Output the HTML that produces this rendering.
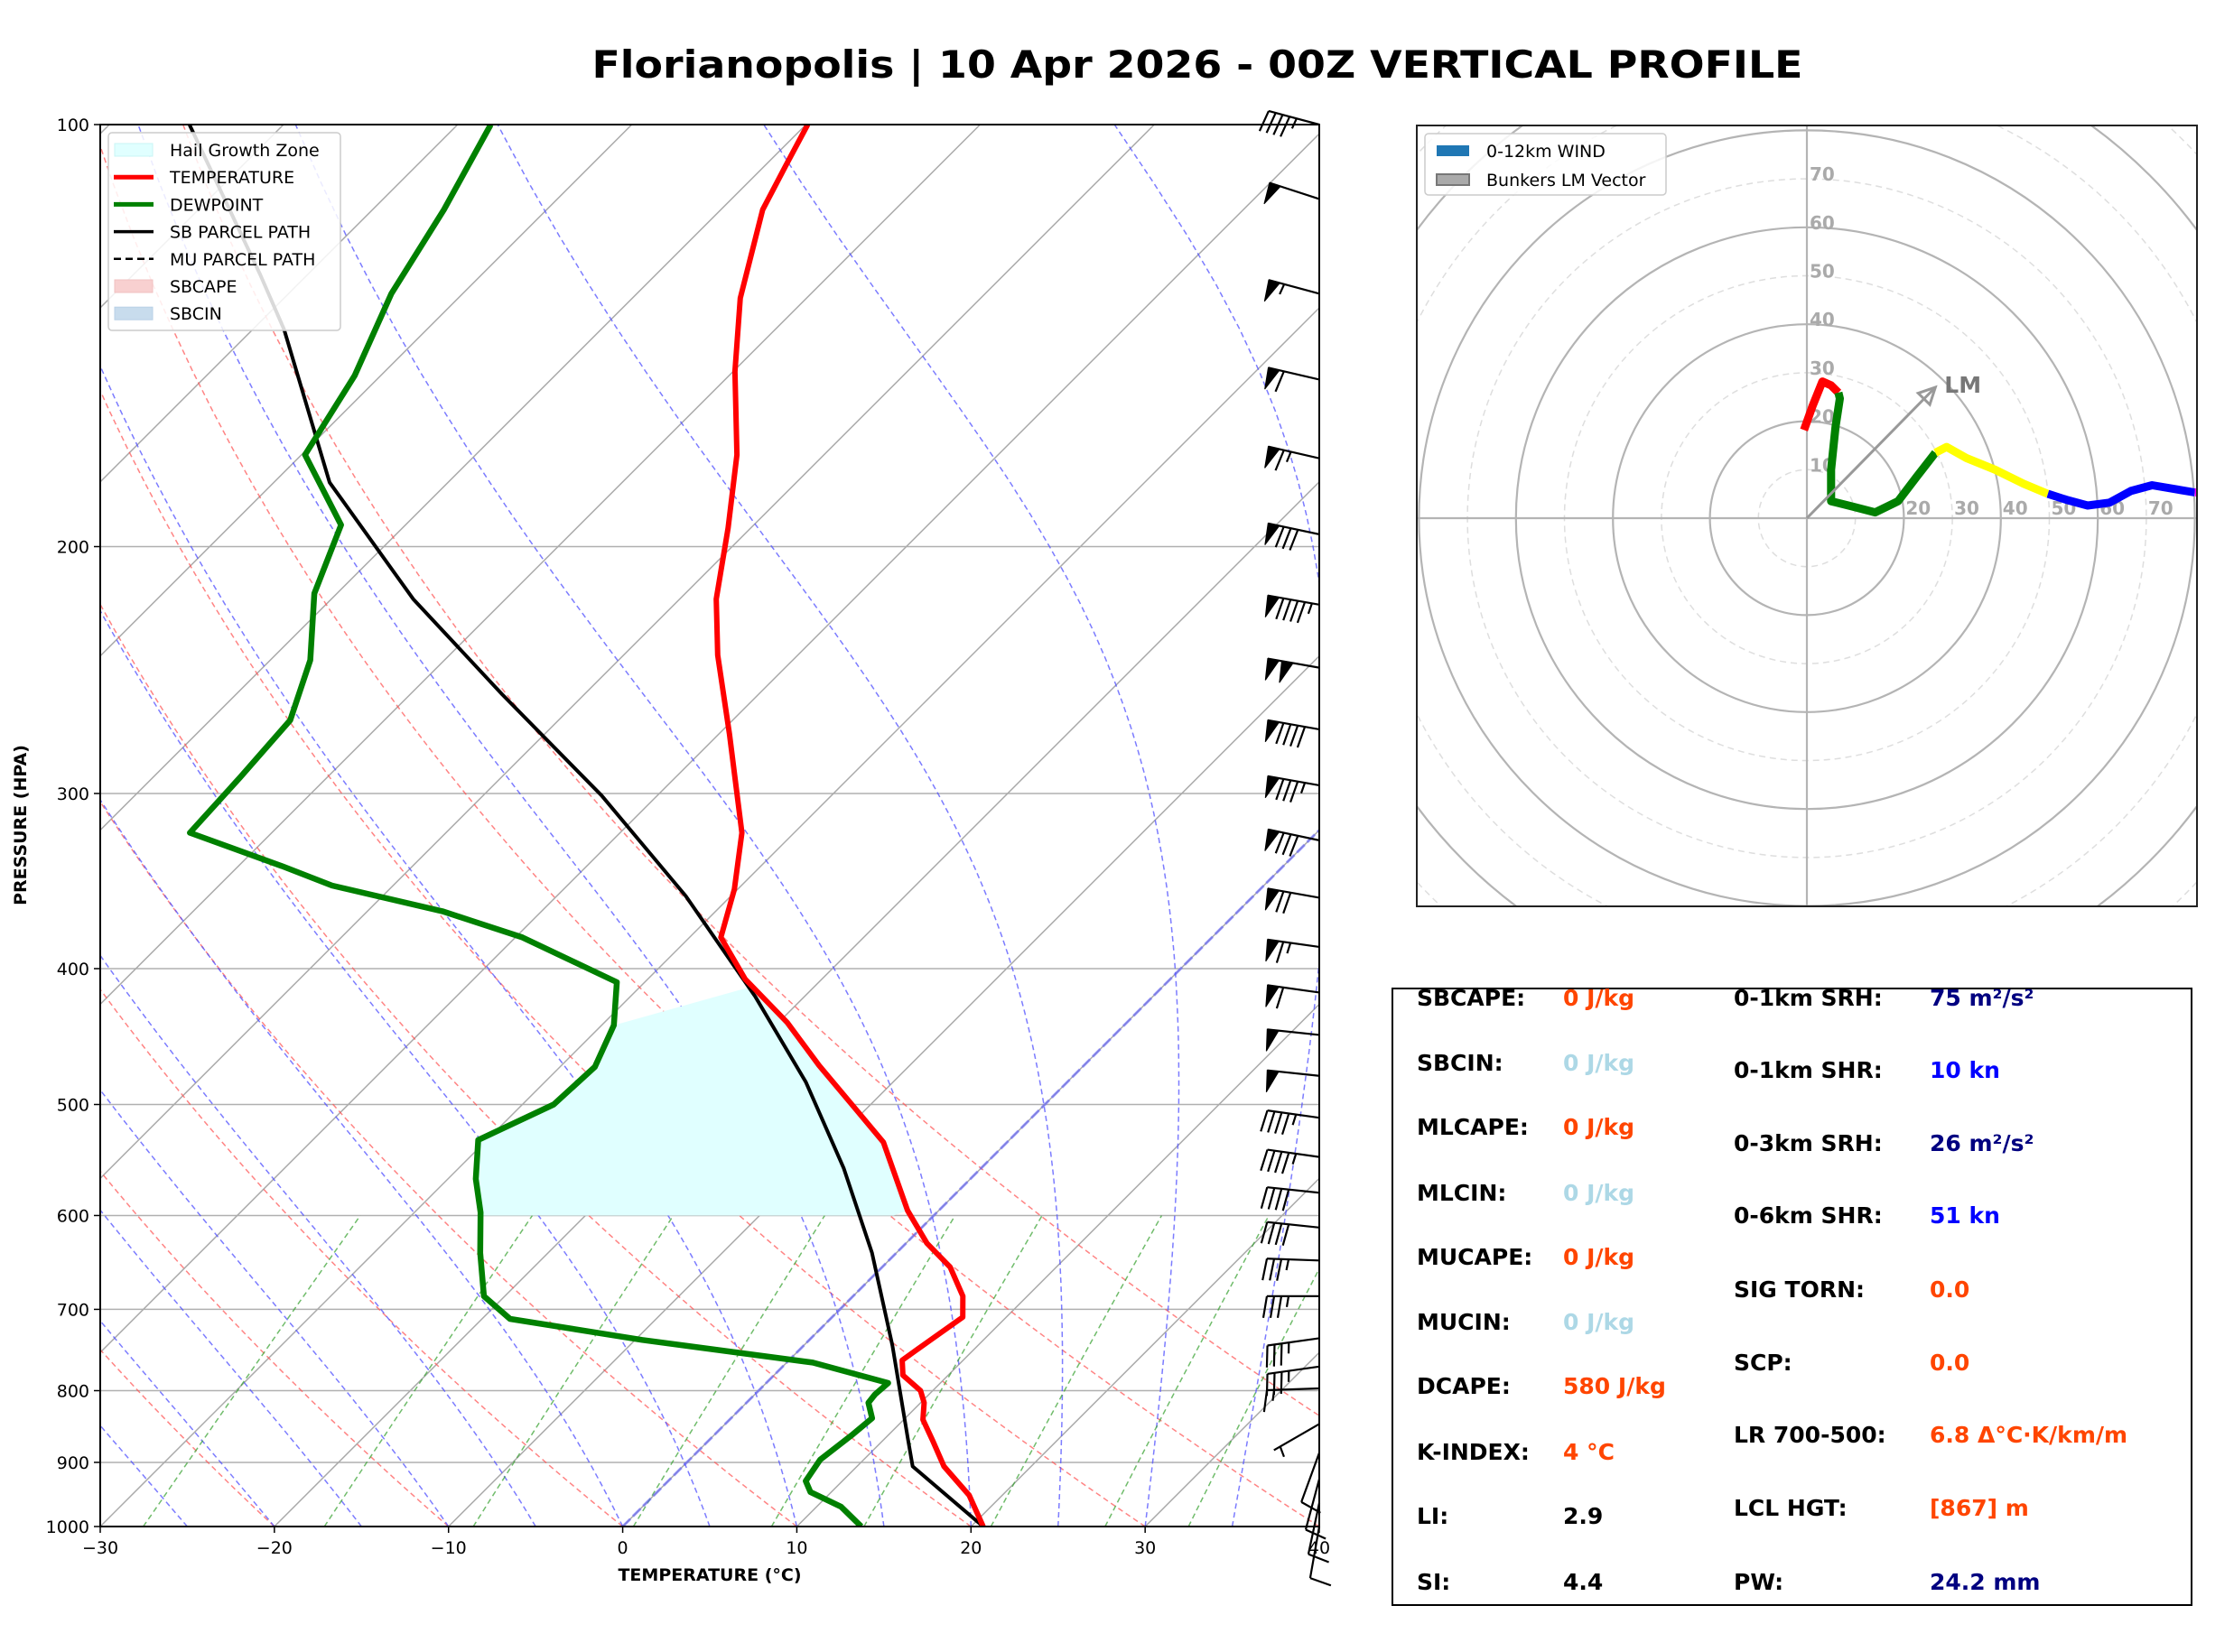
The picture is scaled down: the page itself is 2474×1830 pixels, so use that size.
<!DOCTYPE html>
<html><head><meta charset="utf-8"><style>
html,body{margin:0;padding:0;background:#fff;}
svg{display:block;font-family:"DejaVu Sans","Liberation Sans",sans-serif;}
</style></head><body>
<svg id="fig" width="2474" height="1830" viewBox="0 0 2474 1830" xmlns="http://www.w3.org/2000/svg">
<rect x="0" y="0" width="2474" height="1830" fill="#fff"/>
<text x="1326" y="86" text-anchor="middle" font-size="42" font-weight="bold" textLength="1341" lengthAdjust="spacingAndGlyphs">Florianopolis | 10 Apr 2026 - 00Z VERTICAL PROFILE</text>
<defs>
<clipPath id="skc"><rect x="111" y="138" width="1350" height="1553"/></clipPath>
<clipPath id="hdc"><rect x="1569" y="139" width="864" height="865"/></clipPath>
</defs>
<g id="skew"></g>
<g id="hodo"></g>
<g id="panel">
<rect x="1542" y="1095" width="885" height="683" fill="none" stroke="#000" stroke-width="2"/>
</g>
</svg>
<script>
// ---- data ----
const tempP = [1000,950,906,869,839,816,800,780,761,734,709,685,653,628,595,532,503,469,437,407,380,351,320,272,239,218,194,172,150,133,115,107,100];
const tempT = [20.7,18.1,15.0,12.9,11.1,10.2,9.3,7.4,6.5,7.0,7.5,6.3,3.9,1.2,-1.8,-7.1,-10.7,-15.2,-19.5,-24.4,-28.2,-30.2,-33.0,-39.4,-44.6,-47.9,-51.3,-55.0,-59.9,-63.8,-67.6,-68.8,-69.9];
const dewP = [1000,968,945,928,896,861,837,816,805,790,764,736,711,685,638,597,565,530,500,470,439,409,380,364,349,338,320,292,266,241,216,193,172,151,132,115,100];
const dewT = [13.7,11.4,8.8,7.9,7.5,7.9,8.1,7.0,6.9,7.0,1.5,-9.6,-18.4,-21.2,-23.9,-26.2,-28.4,-30.5,-28.2,-28.0,-29.3,-31.6,-39.6,-45.7,-53.5,-57.5,-64.7,-65.0,-65.4,-67.7,-71.3,-73.7,-79.8,-81.5,-84.1,-85.9,-88.1];
const parcelP = [1000,906,865,743,638,555,482,419,355,301,255,218,180,140,128,100];
const parcelT = [20.7,13.2,11.3,5.1,-1.4,-7.9,-15.0,-22.8,-32.6,-43.2,-54.7,-65.3,-76.8,-88.2,-92.7,-105.4];
const barbP = [100,113,132,152,173,196,220,244,270,296,324,356,386,416,446,477,511,545,578,612,646,685,734,769,797,845,886,925,962,1000];
const barbSpd = [45,50,55,60,65,80,95,100,90,85,80,70,65,60,50,50,45,45,40,40,35,35,35,35,15,5,10,10,10,10];
const barbDir = [285,288,285,283,283,282,280,280,280,280,282,280,278,278,276,276,278,278,276,276,272,270,262,262,268,240,200,195,192,190];
const hodoRedU=[-0.6,1.2,3.2,5.0,6.5], hodoRedV=[18.2,23.2,28.2,27.4,25.9];
const hodoGreenU=[6.5,6.8,5.9,5.0,5.0,9.4,14.1,18.8,22.6,26.5], hodoGreenV=[25.9,24.7,18.8,10,3.5,2.4,1.2,3.5,8.5,13.5];
const hodoYellowU=[26.5,28.8,32.9,38.8,44.7,49.7], hodoYellowV=[13.5,14.7,12.4,10,7.1,5];
const hodoBlueU=[49.7,53.5,57.9,62.4,66.8,71.2,80], hodoBlueV=[5,3.8,2.6,3.2,5.6,6.8,5.3];
const hodoMagU=[80,80.8], hodoMagV=[5.3,5.3];
const lmU = 26.5, lmV = 27;
const xTicks = [-30,-20,-10,0,10,20,30,40];
const pTicks = [100,200,300,400,500,600,700,800,900,1000];

const NS="http://www.w3.org/2000/svg";
function mk(tag, attrs, parent){const e=document.createElementNS(NS,tag);for(const k in attrs)e.setAttribute(k,attrs[k]);parent.appendChild(e);return e;}
// ---- skew-T axes ----
const L=111,R=1461,T0=138,B=1691,PX=19.286;
function Y(p){return B-Math.log10(1000/p)*1553;}
function X(t,p){return L+(t+30)*PX+(B-Y(p));}
const sk=document.getElementById('skew');
const clipG=mk('g',{'clip-path':'url(#skc)'},sk);


function pathOf(ps,ts){return ps.map((p,i)=>(i?'L':'M')+X(ts[i],p).toFixed(1)+','+Y(p).toFixed(1)).join('');}
// horizontal grid
pTicks.forEach(p=>{const l=mk('line',{x1:L,x2:R,y1:Y(p),y2:Y(p),stroke:'#b0b0b0','stroke-width':1.5},clipG);

});
// isotherms
for(let t=-110;t<=40;t+=10){const l=mk('line',{x1:X(t,1000),y1:Y(1000),x2:X(t,100),y2:Y(100),stroke:'#aaa','stroke-width':1.5},clipG);

}
const plist=[];for(let p=1000;p>=100;p-=10)plist.push(p);
// dry adiabats
for(let th=-30;th<=50;th+=10){const ts=plist.map(p=>(th+273.15)*Math.pow(p/1000,0.2857)-273.15);
const e=mk('path',{d:pathOf(plist,ts),fill:'none',stroke:'#ff5050','stroke-opacity':0.7,'stroke-width':1.5,'stroke-dasharray':'6,4'},clipG);

}
// moist adiabats
function es(T){return 6.112*Math.exp(17.67*(T-273.15)/(T-29.65));}
function dTdp(T,p){const e=es(T),rs=0.622*e/(p-e);return (1/p)*(287*T+2.501e6*rs)/(1005+2.501e6*2.501e6*rs*0.622/(287*T*T));}
for(let t0=-30;t0<=35;t0+=5){let T=t0+273.15;const ps=[1000],ts=[t0];for(let p=1000;p>100;p-=2){const k1=dTdp(T,p),k2=dTdp(T-k1,p-1),k3=dTdp(T-k2,p-1),k4=dTdp(T-2*k3,p-2);T-=2*(k1+2*k2+2*k3+k4)/6;if((p-2)%10===0){ps.push(p-2);ts.push(T-273.15);}}
const e=mk('path',{d:pathOf(ps,ts),fill:'none',stroke:'#5050ff','stroke-opacity':0.75,'stroke-width':1.5,'stroke-dasharray':'6,4'},clipG);

}
// mixing ratio
[0.0004,0.001,0.002,0.004,0.007,0.01,0.016,0.024,0.032].forEach(w=>{const ps=[],ts=[];for(let p=1000;p>=600;p-=20){const e=p*w/(0.622+w),ln=Math.log(e/6.112);ps.push(p);ts.push(243.5*ln/(17.67-ln));}
const e=mk('path',{d:pathOf(ps,ts),fill:'none',stroke:'#33a02c','stroke-opacity':0.7,'stroke-width':1.5,'stroke-dasharray':'6,4'},clipG);

});
// 0C isotherm
const z=mk('line',{x1:X(0,1000),y1:Y(1000),x2:X(0,100),y2:Y(100),stroke:'#6060ff','stroke-opacity':0.6,'stroke-width':3,'stroke-dasharray':'12,4'},clipG);


// hail growth zone
(function(){let d='';const pts=[];
dewP.forEach((p,i)=>{if(p<=600&&p>=439)pts.push([X(dewT[i],p),Y(p)]);});
pts.unshift([X(-26.0,600),Y(600)]);
const tTop=412;pts.push([X(-23.6,tTop),Y(tTop)]);
for(let i=tempP.length-1;i>=0;i--){const p=tempP[i];if(p<=600&&p>tTop)pts.push([X(tempT[i],p),Y(p)]);}
pts.push([X(-2.3,600),Y(600)]);
d=pts.map((q,i)=>(i?'L':'M')+q[0].toFixed(1)+','+q[1].toFixed(1)).join('')+'Z';
const e=mk('path',{d:d,fill:'#e0ffff',stroke:'none'},clipG);

})();
// profiles
let e=mk('path',{d:pathOf(parcelP,parcelT),fill:'none',stroke:'#000','stroke-width':4,'stroke-linejoin':'round'},clipG);


e=mk('path',{d:pathOf(tempP,tempT),fill:'none',stroke:'#ff0000','stroke-width':6,'stroke-linejoin':'round'},clipG);


e=mk('path',{d:pathOf(dewP,dewT),fill:'none',stroke:'#008000','stroke-width':6.5,'stroke-linejoin':'round'},clipG);


// frame
e=mk('rect',{x:L,y:T0,width:R-L,height:B-T0,fill:'none',stroke:'#000','stroke-width':2},sk);


// ticks
xTicks.forEach(t=>{const x=L+(t+30)*PX;mk('line',{x1:x,x2:x,y1:B,y2:B+7,stroke:'#000','stroke-width':1.5},sk);
const tx=mk('text',{x:x,y:B+30,'text-anchor':'middle','font-size':19},sk);tx.textContent=(t<0?'\u2212':'')+Math.abs(t);

});
pTicks.forEach(p=>{mk('line',{x1:L-7,x2:L,y1:Y(p),y2:Y(p),stroke:'#000','stroke-width':1.5},sk);
const tx=mk('text',{x:L-12,y:Y(p)+7,'text-anchor':'end','font-size':19},sk);tx.textContent=p;

});
e=mk('text',{x:786,y:1751,'text-anchor':'middle','font-size':19,'font-weight':'bold'},sk);e.textContent='TEMPERATURE (°C)';


e=mk('text',{x:29,y:914,'text-anchor':'middle','font-size':19,'font-weight':'bold',transform:'rotate(-90 29 914)'},sk);e.textContent='PRESSURE (HPA)';


// barbs
barbP.forEach((p,i)=>{const g=mk('g',{},sk);


const bx=R,by=Y(p),len=58,a=barbDir[i]*Math.PI/180;
const tipx=bx+Math.sin(a)*len,tipy=by-Math.cos(a)*len;
mk('line',{x1:bx,y1:by,x2:tipx,y2:tipy,stroke:'#000','stroke-width':2.2},g);
const vx=-Math.sin(a),vy=Math.cos(a);
const px=-Math.cos(a),py=-Math.sin(a);
let s=Math.round(barbSpd[i]/5)*5,pos=0,fl=24,sp=8;
let path='';
while(s>=50){const x0=tipx+vx*pos,y0=tipy+vy*pos;const x1=x0+vx*sp*1.6,y1=y0+vy*sp*1.6;
path+=`M${x0},${y0}L${x0+px*fl+vx*sp*0.2},${y0+py*fl+vy*sp*0.2}L${x1},${y1}Z`;pos+=sp*1.6+3;s-=50;}
let fp='';
if(pos>0)pos+=2;
while(s>=10){const x0=tipx+vx*pos,y0=tipy+vy*pos;fp+=`M${x0},${y0}L${x0+px*fl-vx*4},${y0+py*fl-vy*4}`;pos+=sp;s-=10;}
if(s>=5){if(pos===0)pos=sp;const x0=tipx+vx*pos,y0=tipy+vy*pos;fp+=`M${x0},${y0}L${x0+px*fl*0.5-vx*2},${y0+py*fl*0.5-vy*2}`;}
if(path)mk('path',{d:path,fill:'#000',stroke:'#000','stroke-width':1},g);
if(fp)mk('path',{d:fp,fill:'none',stroke:'#000','stroke-width':2.2},g);
});
// skew legend
(function(){const g=mk('g',{},sk);


mk('rect',{x:120,y:147,width:257,height:219,rx:4,fill:'#fff','fill-opacity':0.85,stroke:'#ccc','stroke-width':1.5},g);
const items=[['Hail Growth Zone','patch','#e0ffff','#c8f4f4'],['TEMPERATURE','line','#ff0000'],['DEWPOINT','line','#008000'],['SB PARCEL PATH','line','#000'],['MU PARCEL PATH','dash','#000'],['SBCAPE','patch','#f8d0d0','#f0c0c0'],['SBCIN','patch','#c8dced','#b8d0e6']];
items.forEach((it,k)=>{const y=166+k*30.2;const ge=mk('g',{},g);


if(it[1]==='patch')mk('rect',{x:127,y:y-7,width:42,height:14,fill:it[2],stroke:it[3]},ge);
else if(it[1]==='line')mk('line',{x1:126,x2:170,y1:y,y2:y,stroke:it[2],'stroke-width':it[2]==='#000'?3.5:5},ge);
else mk('line',{x1:126,x2:170,y1:y,y2:y,stroke:it[2],'stroke-width':2.5,'stroke-dasharray':'8,5'},ge);
const t=mk('text',{x:188,y:y+7,'font-size':19},ge);t.textContent=it[0];});})();

// ---- hodograph ----
const hd=document.getElementById('hodo');
const HC=2001,HV=574,KS=5.37;
function hx(u){return HC+u*KS;} function hy(v){return HV-v*KS;}
const hg=mk('g',{'clip-path':'url(#hdc)'},hd);


for(let r=10;r<=120;r+=10){const solid=r%20===0;const c=mk('circle',{cx:HC,cy:HV,r:r*KS,fill:'none',stroke:solid?'#b4b4b4':'#dedede','stroke-width':solid?2.2:1.5,'stroke-dasharray':solid?'none':'7,5'},hg);

}
mk('line',{x1:1569,x2:2433,y1:HV,y2:HV,stroke:'#b4b4b4','stroke-width':2.2},hg);
mk('line',{x1:HC,x2:HC,y1:139,y2:1004,stroke:'#b4b4b4','stroke-width':2.2},hg);
[10,20,30,40,50,60,70].forEach(r=>{let t=mk('text',{x:HC+3,y:hy(r)+2,'font-size':20,'font-weight':'bold',fill:'#aaa'},hg);t.textContent=r;


if(r>=20){t=mk('text',{x:hx(r)+2,y:HV-4,'font-size':20,'font-weight':'bold',fill:'#aaa'},hg);t.textContent=r;

}});
function hodoLine(us,vs,col,name){const d=us.map((u,i)=>(i?'L':'M')+hx(u).toFixed(1)+','+hy(vs[i]).toFixed(1)).join('');
const e=mk('path',{d:d,fill:'none',stroke:col,'stroke-width':9,'stroke-linejoin':'round'},hg);

}
hodoLine(hodoRedU,hodoRedV,'#ff0000','hodograph-0-1km');
hodoLine(hodoGreenU,hodoGreenV,'#008000','hodograph-1-3km');
hodoLine(hodoYellowU,hodoYellowV,'#ffff00','hodograph-3-6km');
hodoLine(hodoBlueU,hodoBlueV,'#0000ff','hodograph-6-9km');
hodoLine(hodoMagU,hodoMagV,'#ff00ff','hodograph-9-12km');
(function(){const g=mk('g',{},hg);


const x2=hx(lmU),y2=hy(lmV),ang=Math.atan2(y2-HV,x2-HC);
mk('line',{x1:HC,y1:HV,x2:x2,y2:y2,stroke:'#999','stroke-width':3},g);
const hl=18,hw=9;const bx=x2-Math.cos(ang)*hl,by=y2-Math.sin(ang)*hl;
mk('path',{d:`M${x2},${y2}L${bx-Math.sin(ang)*hw},${by+Math.cos(ang)*hw}L${bx+Math.sin(ang)*hw},${by-Math.cos(ang)*hw}Z`,fill:'none',stroke:'#999','stroke-width':3},g);
const t=mk('text',{x:x2+10,y:y2+6,'font-size':25,'font-weight':'bold',fill:'#777'},g);t.textContent='LM';})();
e=mk('rect',{x:1569,y:139,width:864,height:865,fill:'none',stroke:'#222','stroke-width':2},hd);


(function(){const g=mk('g',{},hd);


mk('rect',{x:1578,y:148,width:267,height:68,rx:4,fill:'#fff','fill-opacity':0.85,stroke:'#ccc','stroke-width':1.5},g);
mk('rect',{x:1591,y:161,width:36,height:12,fill:'#1f77b4'},g);
mk('rect',{x:1591,y:193,width:36,height:12,fill:'#aaa',stroke:'#777','stroke-width':2},g);
let t=mk('text',{x:1646,y:174,'font-size':19},g);t.textContent='0-12km WIND';
t=mk('text',{x:1646,y:206,'font-size':19},g);t.textContent='Bunkers LM Vector';})();

// ---- indices panel ----
const pn=document.getElementById('panel');
const leftRows=[['SBCAPE:','0 J/kg','#ff4500'],['SBCIN:','0 J/kg','#add8e6'],['MLCAPE:','0 J/kg','#ff4500'],['MLCIN:','0 J/kg','#add8e6'],['MUCAPE:','0 J/kg','#ff4500'],['MUCIN:','0 J/kg','#add8e6'],['DCAPE:','580 J/kg','#ff4500'],['K-INDEX:','4 °C','#ff4500'],['LI:','2.9','#000'],['SI:','4.4','#000']];
const leftY=[1105,1177,1248,1321,1392,1464,1535,1608,1679,1752];
const rightRows=[['0-1km SRH:','75 m²/s²','#000080'],['0-1km SHR:','10 kn','#0000ff'],['0-3km SRH:','26 m²/s²','#000080'],['0-6km SHR:','51 kn','#0000ff'],['SIG TORN:','0.0','#ff4500'],['SCP:','0.0','#ff4500'],['LR 700-500:','6.8 Δ°C·K/km/m','#ff4500'],['LCL HGT:','[867] m','#ff4500'],['PW:','24.2 mm','#000080']];
const rightY=[1105,1185,1266,1346,1428,1509,1589,1670,1752];
function row(lbl,val,col,x1,x2,y){const g=mk('g',{},pn);


let t=mk('text',{x:x1,y:y+9,'font-size':25,'font-weight':'bold'},g);t.textContent=lbl;
t=mk('text',{x:x2,y:y+9,'font-size':25,'font-weight':'bold',fill:col},g);t.textContent=val;}
leftRows.forEach((r,i)=>row(r[0],r[1],r[2],1569,1731,leftY[i]));
rightRows.forEach((r,i)=>row(r[0],r[1],r[2],1920,2137,rightY[i]));
</script>
</body></html>
